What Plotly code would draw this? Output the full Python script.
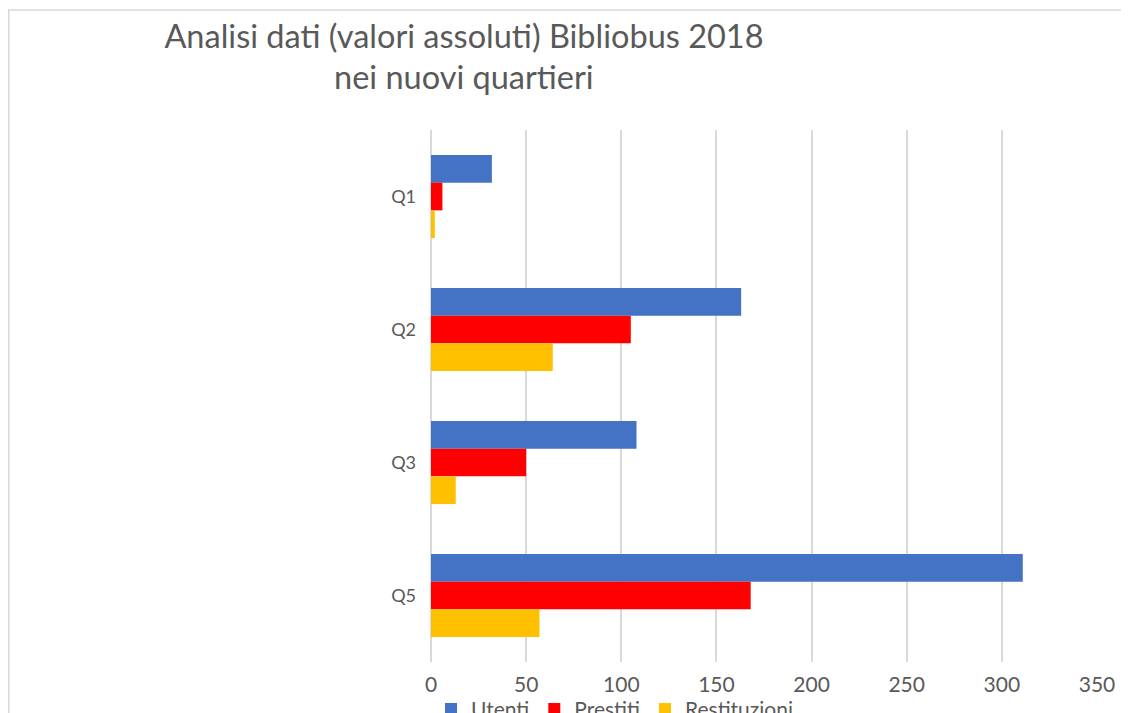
import plotly.graph_objects as go

# dati
quartieri = ["Q1", "Q2", "Q3", "Q5"]
utenti = [32, 163, 108, 311]
prestiti = [6, 105, 50, 168]
restituzioni = [2, 64, 13, 57]

serie = [
    ("Utenti", utenti, "#4472C4"),
    ("Prestiti", prestiti, "#FF0000"),
    ("Restituzioni", restituzioni, "#FFC000"),
]

GRIGIO = "#595959"
FONT = "Lato"

# la pagina ha 8px di margine nel body: la figura occupa 1121x705
W, H = 1121, 705
L, R, T, B = 423, 32, 122, 51
PW, PH = W - L - R, H - T - B

fig = go.Figure()
for nome, valori, colore in serie:
    fig.add_trace(go.Bar(
        y=quartieri, x=valori, name=nome, orientation="h",
        marker=dict(color=colore, line=dict(width=0)),
    ))

fig.update_layout(
    width=W, height=H,
    paper_bgcolor="white", plot_bgcolor="white",
    margin=dict(l=L, r=R, t=T, b=B, autoexpand=False),
    font=dict(family=FONT, color=GRIGIO),
    barmode="group", bargap=0.375, bargroupgap=0,
    title=dict(
        text="Analisi dati (valori assoluti) Bibliobus 2018",
        x=456 / W, xref="container", xanchor="center",
        y=1 - 29 / H, yref="container", yanchor="middle",
        font=dict(size=32.5, color=GRIGIO, family=FONT),
    ),
    xaxis=dict(
        range=[0, 350], dtick=50, showgrid=True, gridcolor="#d9d9d9", gridwidth=1.5,
        zeroline=True, zerolinecolor="#d9d9d9", zerolinewidth=1.5,
        showline=False, ticks="",
        tickfont=dict(size=21, color=GRIGIO), ticklabelstandoff=8,
    ),
    yaxis=dict(
        autorange="reversed", showgrid=False, showline=False, ticks="",
        tickfont=dict(size=18, color=GRIGIO), ticklabelstandoff=14,
    ),
    legend=dict(
        orientation="h", x=0, xanchor="left", y=-0.089, yanchor="middle",
        font=dict(size=21, color=GRIGIO), traceorder="normal",
        bgcolor="rgba(0,0,0,0)",
    ),
    showlegend=True,
)

# seconda riga del titolo
fig.add_annotation(
    text="nei nuovi quartieri", xref="paper", yref="paper",
    x=(456 - L) / PW, y=(T + PH - 68) / PH, xanchor="center", yanchor="middle",
    showarrow=False, font=dict(size=32.5, color=GRIGIO, family=FONT),
)

# cornice dell'area grafico (bordo grigio chiaro)
fig.add_shape(
    type="rect", xref="paper", yref="paper",
    x0=(0.75 - L) / PW, x1=1.2, y0=-0.3, y1=(T + PH - 2) / PH,
    line=dict(color="#d9d9d9", width=1.5), fillcolor="rgba(0,0,0,0)", layer="below",
)

fig.write_html("out.html")
